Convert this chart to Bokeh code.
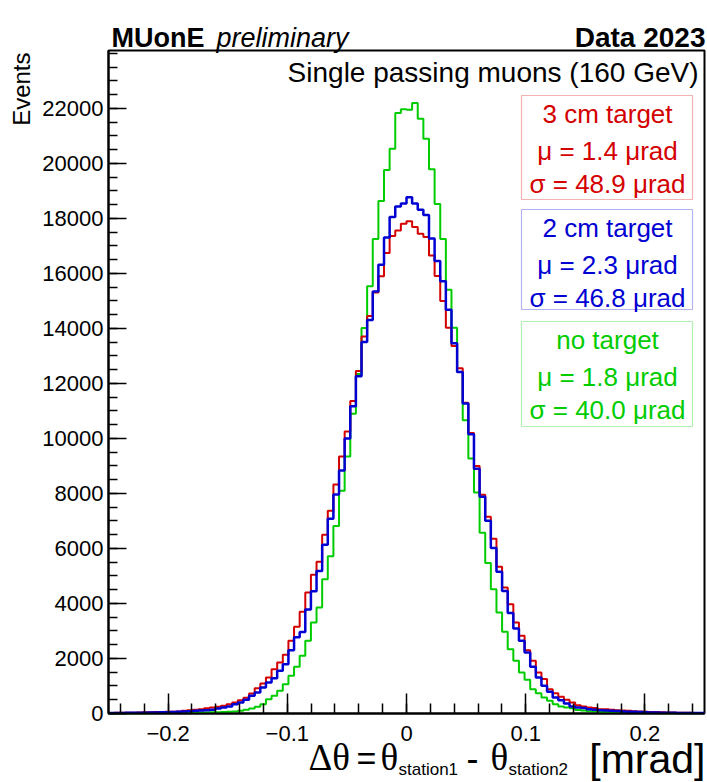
import numpy as np
from bokeh.plotting import figure
from bokeh.models import Range1d, FixedTicker, Label, BoxAnnotation
from bokeh.embed import file_html
from bokeh.resources import INLINE
from math import pi

# ---------------- data ----------------
X_MIN, X_MAX = -0.25, 0.25
N_BINS = 106
Y_MAX = 24100

# bin contents, bins from -0.25 to +0.25 (left to right)
no_target = [
    4, 6, 5, 8, 9, 8, 12, 11, 14, 15, 19, 20, 24, 25, 27, 32, 36, 39, 46, 49, 57, 62,
    73, 97, 133, 182, 242, 339, 521, 642, 824, 1067, 1370, 1697, 2097, 2642, 3309,
    3854, 4884, 5720, 6820, 8100, 9344, 10900, 12340, 14016, 15530, 17250, 18630,
    19760, 20530, 21830, 21960,
    21950, 22190, 21620, 20890, 19780, 18520, 17250, 15400, 14020, 12410,
    10660, 9270, 8030, 6570, 5475, 4520, 3672, 2970, 2340, 1915,
    1490, 1224, 885, 740, 582, 460, 340, 255, 218, 190,
    130, 110, 85, 70, 55, 50, 42, 38, 32, 28,
    25, 22, 20, 17, 15, 13, 12, 10, 9, 8,
    7, 6, 5,
]
target_2cm = [
    14, 19, 18, 24, 23, 29, 31, 32, 39, 41, 49, 54,
    60, 75, 85, 97, 110, 121, 133, 182, 218, 255,
    339, 400, 497, 642, 764, 945, 1127, 1285, 1551, 1794,
    2303, 2770, 2960, 3780, 4440, 5180, 6130, 7080, 7960, 8830,
    10000, 11170, 12260, 13500, 14300, 15340, 16310, 17300, 18050, 18430, 18540,
    18770, 18540, 18310, 18120, 17270, 16450, 15710, 14680, 13460, 12410,
    11270, 10150, 8900, 7880, 7010, 6015, 5150, 4450, 3650, 3090,
    2640, 2220, 1700, 1310, 1005, 790, 580, 485, 364, 255,
    218, 200, 158, 140, 120, 110, 100, 90, 75, 65,
    60, 52, 45, 40, 35, 30, 28, 25, 22, 20,
    18, 15, 14,
]
target_3cm = [
    19, 24, 23, 30, 31, 37, 41, 44, 52, 54, 63, 67,
    73, 97, 121, 140, 158, 194, 218, 242, 280, 340,
    400, 485, 570, 727, 920, 1091, 1309, 1612, 1854, 2133,
    2642, 3151, 3697, 4400, 5040, 5519, 6497, 7373, 8322, 9344,
    10249, 11359, 12450, 13700, 14450, 15300, 15890, 16740, 17355, 17560, 17805,
    17890, 17680, 17440, 17320, 16650, 15900, 14990, 14020, 13360, 12550,
    11300, 10200, 9000, 7950, 7150, 6350, 5330, 4580, 3975, 3310,
    2825, 2300, 1915, 1490, 1250, 885, 740, 606, 497, 400,
    303, 255, 218, 200, 158, 150, 133, 120, 110, 100,
    85, 75, 65, 58, 50, 45, 40, 35, 30, 28,
    25, 22, 20,
]

x_ticks = [-0.2, -0.1, 0.0, 0.1, 0.2]
x_tick_labels = ["\u22120.2", "\u22120.1", "0", "0.1", "0.2"]
y_ticks = list(range(0, 22001, 2000))

legend_titles = ["3 cm target", "2 cm target", "no target"]
legend_mu = ["\u03bc = 1.4 \u03bcrad", "\u03bc = 2.3 \u03bcrad", "\u03bc = 1.8 \u03bcrad"]
legend_sigma = ["\u03c3 = 48.9 \u03bcrad", "\u03c3 = 46.8 \u03bcrad", "\u03c3 = 40.0 \u03bcrad"]

RED, BLUE, GREEN = "#d40000", "#0000d2", "#00cc00"
FONT = "Liberation Sans"
SERIF = "Liberation Serif"

# ---------------- layout (page px) ----------------
W, H = 707, 782
FR_L, FR_R, FR_T, FR_B = 108, 704, 50, 713


def dx(px):
    return X_MIN + (px - FR_L) / (FR_R - FR_L) * (X_MAX - X_MIN)


def dy(py):
    return (FR_B - py) / (FR_B - FR_T) * Y_MAX


# the plot frame covers the whole canvas; axes are pinned to the histogram box
p = figure(width=W, height=H, output_backend="svg", toolbar_location=None,
           x_range=Range1d(dx(0), dx(W)), y_range=Range1d(dy(H), dy(0)),
           min_border=0)
p.grid.visible = False
p.outline_line_color = None
p.background_fill_color = "white"
p.border_fill_color = "white"

# histogram box (top and right sides)
p.quad(left=[X_MIN], right=[X_MAX], bottom=[0], top=[Y_MAX],
       fill_color=None, line_color="black", line_width=2)

edges = np.linspace(X_MIN, X_MAX, N_BINS + 1)
for vals, col, lw in [(no_target, GREEN, 2), (target_3cm, RED, 2), (target_2cm, BLUE, 2.5)]:
    yv = list(vals) + [vals[-1]]
    p.step(x=edges, y=yv, mode="after", line_color=col, line_width=lw)

# axes
for ax in (p.xaxis[0], p.yaxis[0]):
    ax.axis_line_width = 2
    ax.axis_line_color = "black"
    ax.major_tick_line_color = "black"
    ax.minor_tick_line_color = "black"
    ax.major_tick_line_width = 1.5
    ax.minor_tick_line_width = 1.5
    ax.major_tick_out = 0
    ax.minor_tick_out = 0
    ax.major_label_text_font = FONT
    ax.major_label_text_font_size = "22px"
    ax.major_label_text_color = "black"

p.xaxis.fixed_location = 0
p.xaxis.bounds = (X_MIN, X_MAX)
p.xaxis.ticker = FixedTicker(ticks=x_ticks, minor_ticks=list(np.round(np.arange(-0.24, 0.2401, 0.02), 2)))
p.xaxis.major_label_overrides = dict(zip(x_ticks, x_tick_labels))
p.xaxis.major_tick_in = 20
p.xaxis.minor_tick_in = 10
p.xaxis.major_label_standoff = 12

p.yaxis.fixed_location = X_MIN
p.yaxis.bounds = (0, Y_MAX)
p.yaxis.ticker = FixedTicker(ticks=y_ticks, minor_ticks=list(range(0, 24001, 500)))
p.yaxis.major_tick_in = 18
p.yaxis.minor_tick_in = 9
p.yaxis.major_label_standoff = 5


# ---------------- texts ----------------
def lab(text, px, py, size, color="black", align="left", style="normal", angle=0, font=FONT):
    p.add_layout(Label(x=dx(px), y=dy(py), text=text, text_font=font,
                       text_font_size=size, text_color=color, text_align=align,
                       text_baseline="middle", text_font_style=style, angle=angle))


lab("MUonE", 111, 37, "27px", style="bold")
lab("preliminary", 216, 37, "27px", style="italic")
lab("Data 2023", 705, 37, "28px", style="bold", align="right")
lab("Events", 21, 52, "24px", align="right", angle=pi / 2)
lab("Single passing muons (160 GeV)", 698, 72, "28px", align="right")

# x-axis title pieces
lab("\u0394\u03b8", 308, 757, "37px", font=SERIF)
lab("=", 356, 757, "34px")
lab("\u03b8", 380, 757, "37px", font=SERIF)
lab("station1", 398, 769, "17px")
lab("-", 466, 757, "36px")
lab("\u03b8", 490, 757, "37px", font=SERIF)
lab("station2", 508, 769, "17px")
lab("[mrad]", 705, 758, "41px", align="right")

# legend boxes
boxes = [(95, 199, RED), (209, 309, BLUE), (321, 426, GREEN)]
for i, (top, bot, col) in enumerate(boxes):
    p.add_layout(BoxAnnotation(left=dx(521), right=dx(692), top=dy(top), bottom=dy(bot),
                               fill_color="white", fill_alpha=1.0,
                               line_color=col, line_width=1.2))
    cx = 607
    lab(legend_titles[i], cx, top + 18, "26px", color=col, align="center")
    lab(legend_mu[i], cx, top + 55, "26px", color=col, align="center")
    lab(legend_sigma[i], cx, top + 88, "26px", color=col, align="center")

open("out.html", "w").write(file_html(p, INLINE))
